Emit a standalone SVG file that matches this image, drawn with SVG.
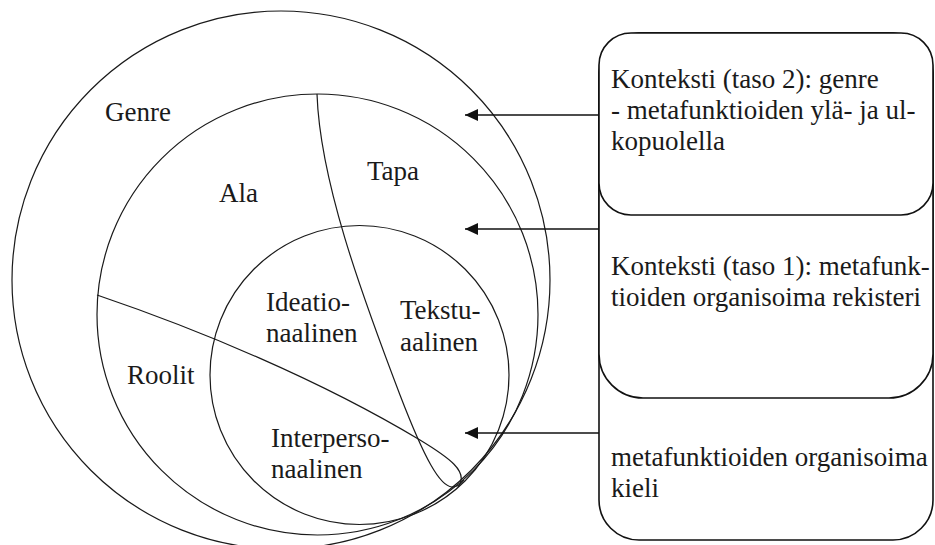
<svg xmlns="http://www.w3.org/2000/svg" width="935" height="545" viewBox="0 0 935 545">
  <style>
    .ring { fill: none; stroke: #1a1a1a; stroke-width: 1.2; }
    .split { fill: none; stroke: #1a1a1a; stroke-width: 1.2; }
    .box { fill: #ffffff; stroke: #111111; stroke-width: 1.6; }
    .link { fill: none; stroke: #111111; stroke-width: 1.6; }
    .lbl { font-family: "Liberation Serif", "Times New Roman", serif; font-size: 27px; fill: #1a1a1a; }
  </style>
  <defs>
    <marker id="head" markerUnits="userSpaceOnUse" markerWidth="14" markerHeight="14" refX="13" refY="6" orient="auto">
      <path d="M0,0 L13,6 L0,12 Z" fill="#111111"/>
    </marker>
  </defs>

  <!-- nested context rings -->
  <g id="genre">
    <circle class="ring" cx="281" cy="280" r="269"/>
    <text class="lbl" x="105" y="121">Genre</text>
  </g>
  <g id="rekisteri">
    <circle class="ring" cx="317.5" cy="314.5" r="220.5"/>
    <text class="lbl" x="219" y="202">Ala</text>
    <text class="lbl" x="367" y="180">Tapa</text>
    <text class="lbl" x="127" y="384">Roolit</text>
  </g>
  <g id="metafunktiot">
    <circle class="ring" cx="359.5" cy="375" r="149.5"/>
    <text class="lbl" x="266" y="311">Ideatio-</text>
    <text class="lbl" x="266" y="342">naalinen</text>
    <text class="lbl" x="400" y="319">Tekstu-</text>
    <text class="lbl" x="400" y="351">aalinen</text>
    <text class="lbl" x="271" y="447">Interperso-</text>
    <text class="lbl" x="271" y="478">naalinen</text>
  </g>

  <!-- dividing curves inside the rings -->
  <g id="jakoviivat">
    <path class="split" d="M317,94 C320,180 360,290 400,395 C425,460 440,486 452,487 C458,487 461,484 464,480"/>
    <path class="split" d="M97,295 C200,330 320,380 420,440 C448,457 470,472 458,487"/>
  </g>

  <!-- stacked level boxes -->
  <g id="kieli">
    <rect class="box" x="599" y="33" width="334" height="507" rx="40" ry="40"/>
    <text class="lbl" x="611" y="466">metafunktioiden organisoima</text>
    <text class="lbl" x="611" y="497">kieli</text>
  </g>
  <g id="konteksti-1">
    <rect class="box" x="599" y="33" width="334" height="365" rx="44" ry="44"/>
    <text class="lbl" x="611" y="275">Konteksti (taso 1): metafunk-</text>
    <text class="lbl" x="611" y="306">tioiden organisoima rekisteri</text>
  </g>
  <g id="konteksti-2">
    <rect class="box" x="599" y="33" width="334" height="182" rx="32" ry="32"/>
    <text class="lbl" x="611" y="88">Konteksti (taso 2): genre</text>
    <text class="lbl" x="611" y="119">- metafunktioiden ylä- ja ul-</text>
    <text class="lbl" x="611" y="150">kopuolella</text>
  </g>

  <!-- connectors from boxes to rings -->
  <g id="connectors">
    <line class="link" x1="599" y1="115" x2="465" y2="115" marker-end="url(#head)"/>
    <line class="link" x1="599" y1="229" x2="465" y2="229" marker-end="url(#head)"/>
    <line class="link" x1="599" y1="433" x2="465" y2="433" marker-end="url(#head)"/>
  </g>
</svg>
